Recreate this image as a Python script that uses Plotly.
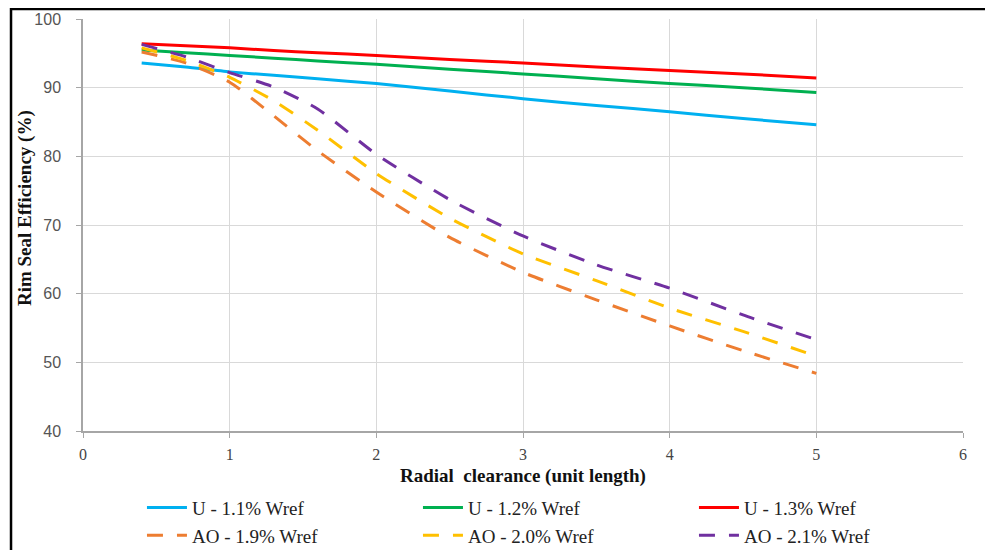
import plotly.graph_objects as go

# ---- data ----
x_vals = [0.4, 0.7, 1.0, 1.3, 1.6, 2.0, 2.5, 3.0, 3.5, 4.0, 4.5, 5.0]

u_11 = [93.6, 93.0, 92.3, 91.8, 91.3, 90.6, 89.5, 88.4, 87.4, 86.5, 85.5, 84.6]
u_12 = [95.5, 95.1, 94.7, 94.3, 93.9, 93.4, 92.7, 92.0, 91.3, 90.6, 90.0, 89.3]
u_13 = [96.4, 96.1, 95.8, 95.4, 95.1, 94.7, 94.1, 93.6, 93.0, 92.5, 92.0, 91.4]
ao_19 = [95.2, 93.6, 90.8, 85.9, 80.8, 74.8, 68.2, 63.1, 59.1, 55.3, 51.7, 48.4]
ao_20 = [95.8, 94.0, 91.5, 88.1, 83.8, 77.5, 71.0, 65.8, 61.9, 57.9, 54.5, 50.9]
ao_21 = [96.3, 94.5, 92.2, 90.1, 86.9, 80.3, 73.7, 68.4, 64.2, 60.8, 56.9, 53.3]

series_names = ["U - 1.1% Wref", "U - 1.2% Wref", "U - 1.3% Wref",
                "AO - 1.9% Wref", "AO - 2.0% Wref", "AO - 2.1% Wref"]
series_values = [u_11, u_12, u_13, ao_19, ao_20, ao_21]
series_colors = ["#00B0F0", "#00B050", "#FF0000", "#ED7D31", "#FFC000", "#7030A0"]
series_dash = ["solid", "solid", "solid", "16px,14px", "16px,14px", "16px,14px"]

x_ticks = [0, 1, 2, 3, 4, 5, 6]
y_ticks = [40, 50, 60, 70, 80, 90, 100]

fig = go.Figure()
for name, vals, col, dash in zip(series_names, series_values, series_colors, series_dash):
    fig.add_trace(go.Scatter(
        x=x_vals, y=vals, name=name, mode="lines",
        line=dict(color=col, width=3, dash=dash, shape="spline", smoothing=0.6),
    ))

serif = "Liberation Serif, Times New Roman, serif"

fig.update_layout(
    width=985, height=542,
    margin=dict(l=75, r=30, t=11, b=119, autoexpand=False),
    paper_bgcolor="white", plot_bgcolor="white",
    showlegend=True,
    legend=dict(
        orientation="h", x=0.067, xanchor="left", y=-0.14, yanchor="top",
        entrywidth=221, entrywidthmode="pixels",
        font=dict(family=serif, size=19, color="#222222"),
        tracegroupgap=0, itemwidth=40,
    ),
    xaxis=dict(
        range=[0, 6], tickvals=x_ticks, ticktext=[str(t) for t in x_ticks],
        showgrid=True, gridcolor="#D9D9D9", gridwidth=1,
        showline=True, linecolor="#A6A6A6", linewidth=1.5,
        ticks="outside", ticklen=5, tickcolor="#A6A6A6",
        tickfont=dict(family=serif, size=16, color="#444444"),
        zeroline=False, ticklabelstandoff=3, automargin=False,
    ),
    yaxis=dict(
        range=[40, 100], tickvals=y_ticks, ticktext=[str(t) for t in y_ticks],
        showgrid=True, gridcolor="#D9D9D9", gridwidth=1,
        showline=True, linecolor="#A6A6A6", linewidth=1.5,
        ticks="outside", ticklen=5, tickcolor="#A6A6A6",
        tickfont=dict(family="Liberation Sans, Arial, sans-serif", size=16, color="#555555"),
        zeroline=False, ticklabelstandoff=12, automargin=False,
    ),
    annotations=[
        dict(text="<b>Radial  clearance (unit length)</b>", xref="paper", yref="paper",
             x=0.5, y=-0.11, xanchor="center", yanchor="middle", showarrow=False,
             font=dict(family=serif, size=19, color="#111111")),
        dict(text="<b>Rim Seal Efficiency (%)</b>", xref="paper", yref="paper",
             x=-0.066, y=0.541, xanchor="center", yanchor="middle", showarrow=False,
             textangle=-90, font=dict(family=serif, size=19, color="#111111")),
    ],
    shapes=[
        dict(type="rect", xref="paper", yref="paper",
             x0=-0.0818, x1=1.2, y0=-0.5, y1=1.0243,
             line=dict(color="black", width=2.5), fillcolor="rgba(0,0,0,0)", layer="above"),
    ],
)

fig.write_html("out.html")
